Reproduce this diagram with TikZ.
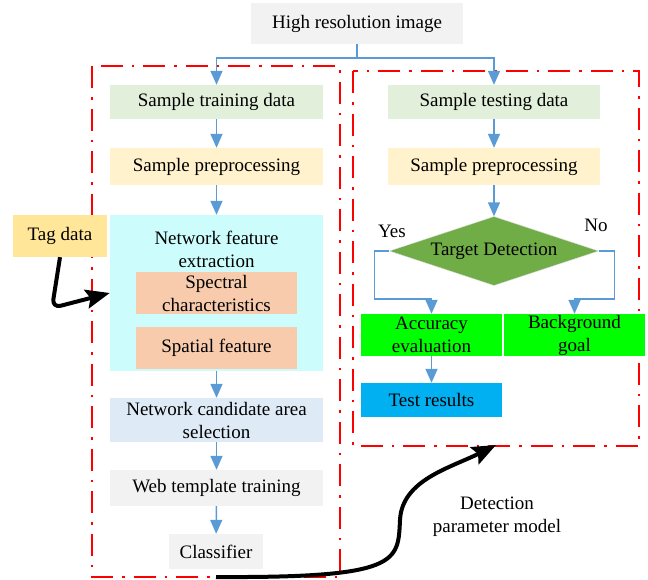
\documentclass[tikz,border=0pt]{standalone}
\usepackage{fontspec}
\setmainfont{Liberation Serif}
\usetikzlibrary{arrows.meta,shapes.geometric}
\definecolor{boxgray}{HTML}{F2F2F2}
\definecolor{boxgreen}{HTML}{E2EFDA}
\definecolor{boxyellow}{HTML}{FFF2CC}
\definecolor{boxcyan}{HTML}{CCFCFC}
\definecolor{boxsalmon}{HTML}{F8CBAD}
\definecolor{boxblue}{HTML}{DEEBF7}
\definecolor{tagfill}{HTML}{FFE699}
\definecolor{diafill}{HTML}{70AD47}
\definecolor{accgreen}{HTML}{00FF00}
\definecolor{testblue}{HTML}{00B0F0}
\definecolor{flowblue}{HTML}{5B9BD5}

\begin{document}
\begin{tikzpicture}[x=1pt,y=-1pt,
	font=\fontsize{19}{23}\selectfont,
	blk/.style={inner sep=0pt,align=center,minimum width=213pt},
	flow/.style={draw=flowblue,line width=1.5pt,-{Triangle[length=14pt,width=12pt]}},
	redframe/.style={draw=red,line width=2.5pt,dash pattern=on 22pt off 9pt on 2.5pt off 9pt},
	bigarrow/.style={draw=black,line width=4pt,-{Stealth[length=24pt,width=19pt,inset=4pt]}}]
	\useasboundingbox (0,0) rectangle (648,579);
	% dash-dot frames
	\draw[redframe] (92,66) rectangle (340,577);
	\draw[redframe] (353,71) rectangle (639,446);
	% source
	\node[blk,fill=boxgray,minimum width=212pt,minimum height=41pt] (hri) at (357,23.5) {High resolution image};
	% training side
	\node[blk,fill=boxgreen,minimum height=34pt] (trn) at (216.5,102) {Sample training data};
	\node[blk,fill=boxyellow,minimum height=37pt] (prl) at (216.5,166.5) {Sample preprocessing};
	\node[blk,fill=boxcyan,minimum height=156pt] (nfe) at (216.5,293) {};
	\node[align=center,inner sep=0pt] (nfetitle) at (216.5,249) {Network feature\\extraction};
	\node[blk,fill=boxsalmon,minimum width=161pt,minimum height=42pt] (spec) at (216.5,293) {Spectral\\characteristics};
	\node[blk,fill=boxsalmon,minimum width=161pt,minimum height=42pt] (spat) at (216.5,348) {Spatial feature};
	\node[blk,fill=boxblue,minimum height=44pt] (cand) at (216.5,420) {Network candidate area\\selection};
	\node[blk,fill=boxgray,minimum height=36pt] (web) at (216.5,488) {Web template training};
	\node[blk,fill=boxgray,minimum width=94pt,minimum height=35pt] (cls) at (216,551.5) {Classifier};
	\node[blk,fill=tagfill,minimum width=94pt,minimum height=42pt] (tag) at (60,236) {Tag data};
	% testing side
	\node[blk,fill=boxgreen,minimum width=212pt,minimum height=34pt] (tst) at (494,102) {Sample testing data};
	\node[blk,fill=boxyellow,minimum width=212pt,minimum height=37pt] (prr) at (494,166.5) {Sample preprocessing};
	\node[diamond,aspect=3,inner sep=0pt,fill=diafill,draw=black!15,minimum width=209pt,minimum height=69pt] (tdet) at (494,251) {Target Detection};
	\node (yes) at (392,231) {Yes};
	\node (no) at (596,225) {No};
	\node[blk,fill=accgreen,minimum width=141pt,minimum height=42pt] (acc) at (431.5,335) {Accuracy\\evaluation};
	\node[blk,fill=accgreen,minimum width=141pt,minimum height=42pt] (bg) at (574.5,335) {Background\\goal};
	\node[blk,fill=testblue,minimum width=141pt,minimum height=34pt] (res) at (431.5,400) {Test results};
	\node[align=center,inner sep=0pt] (dpm) at (497,517) {Detection\\parameter model};
	\coordinate (dpmstart) at (216,577);
	\coordinate (dpmtip) at (496,445);
	% flow arrows
	\draw[flow] (hri.south) -- ++(0,14) -| (trn.north);
	\draw[flow] (hri.south) -- ++(0,14) -| (tst.north);
	\draw[flow] (trn) -- (prl);
	\draw[flow] (prl) -- (nfe);
	\draw[flow] (nfe) -- (cand);
	\draw[flow] (cand) -- (web);
	\draw[flow] (web) -- (cls);
	\draw[flow] (tst) -- (prr);
	\draw[flow] (prr) -- (tdet);
	\draw[flow] (tdet.west) -- ++(-15,0) -- ++(0,48) -| (acc.north);
	\draw[flow] (tdet.east) -- ++(16,0) -- ++(0,48) -| (bg.north);
	\draw[flow] (acc) -- (res);
	% black arrows
	\draw[bigarrow,rounded corners=9pt] (tag.south) -- (52,308) -- (nfe.west);
	\draw[bigarrow] (dpmstart) .. controls (400,578) and (398,562) .. (400,520)
		.. controls (402,480) and (450,468) .. (dpmtip);
\end{tikzpicture}
\end{document}
